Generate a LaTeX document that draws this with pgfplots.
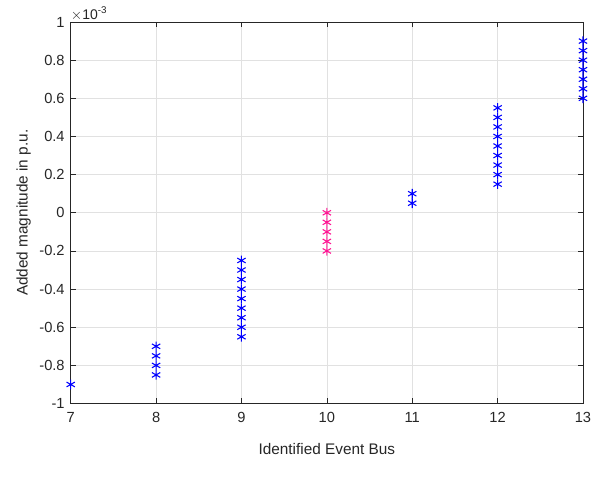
\documentclass[border=0pt]{standalone}
\usepackage{pgfplots}
\pgfplotsset{compat=1.18}
\usepackage{fontspec}
\setmainfont{Liberation Sans}
\definecolor{mblue}{RGB}{0,0,255}
\definecolor{mpink}{RGB}{255,20,147}
\definecolor{axgray}{RGB}{38,38,38}
\definecolor{gridgray}{RGB}{225,225,225}
\begin{document}
\begin{tikzpicture}
\begin{axis}[
  width=384pt, height=286pt, scale only axis,
  xmin=7, xmax=13, ymin=-1, ymax=1,
  xtick={7,8,...,13},
  ytick={-1,-0.8,...,1},
  yticklabels={-1,-0.8,-0.6,-0.4,-0.2,0,0.2,0.4,0.6,0.8,1},
  /pgf/number format/assume math mode=true,
  tick align=inside,
  major tick length=4pt,
  tick style={axgray, line width=0.5pt},
  axis line style={axgray, line width=0.6pt},
  grid=major,
  grid style={gridgray, line width=0.5pt},
  ticklabel style={font=\fontsize{11}{13}\selectfont, text=axgray},
  xticklabel style={yshift=-3pt},
  yticklabel style={xshift=-1pt},
  label style={font=\fontsize{11.5}{13}\selectfont, text=axgray},
  xlabel={Identified Event Bus},
  ylabel={Added magnitude in p.u.},
  xlabel style={yshift=-9pt},
  ylabel style={yshift=-0.5pt},
  clip=false,
]
\addplot[only marks, mark=asterisk, mark size=3.6pt, mblue, line width=0.8pt] coordinates {
  (7,-0.9)
  (8,-0.7) (8,-0.75) (8,-0.8) (8,-0.85)
  (9,-0.25) (9,-0.3) (9,-0.35) (9,-0.4) (9,-0.45) (9,-0.5) (9,-0.55) (9,-0.6) (9,-0.65)
  (11,0.1) (11,0.05)
  (12,0.15) (12,0.2) (12,0.25) (12,0.3) (12,0.35) (12,0.4) (12,0.45) (12,0.5) (12,0.55)
  (13,0.6) (13,0.65) (13,0.7) (13,0.75) (13,0.8) (13,0.85) (13,0.9)
};
\addplot[only marks, mark=asterisk, mark size=3.6pt, mpink, line width=0.8pt] coordinates {
  (10,0) (10,-0.05) (10,-0.1) (10,-0.15) (10,-0.2)
};
\node[anchor=south west, inner sep=0pt, text=axgray, font=\fontsize{10.5}{12}\selectfont]
  at ([yshift=1pt]rel axis cs:0,1) {$\times$10\textsuperscript{-3}};
\end{axis}
\pgfresetboundingbox
\useasboundingbox ([shift={(-53pt,-55.5pt)}]current axis.south west) rectangle ([shift={(16.5pt,16.5pt)}]current axis.north east);
\end{tikzpicture}
\end{document}
